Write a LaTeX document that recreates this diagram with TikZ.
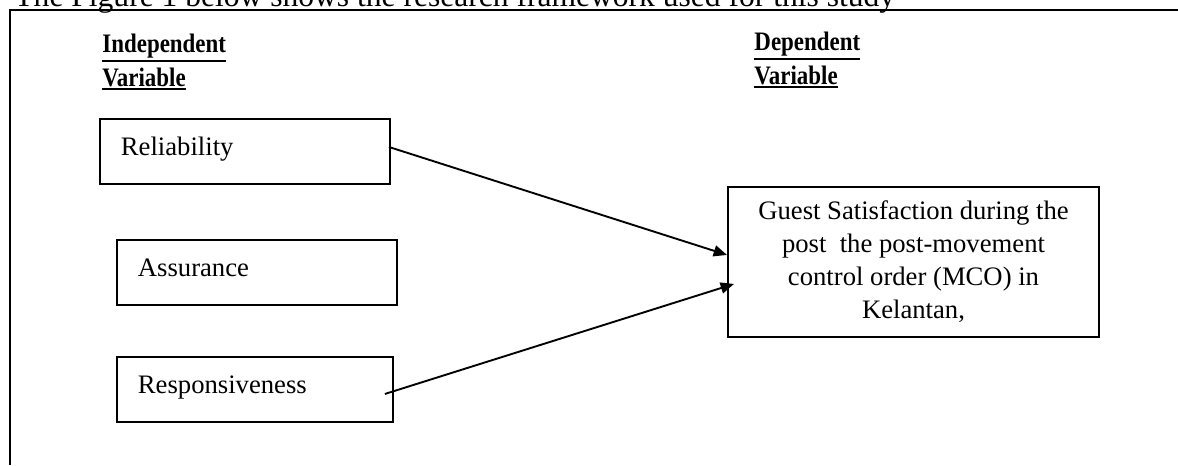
\documentclass[tikz,border=0pt]{standalone}
\usepackage{fontspec}
\setmainfont{Liberation Serif}
\newfontfamily\headfont[FakeStretch=0.86]{Liberation Serif}
\usepackage{xcolor}
\usetikzlibrary{calc,positioning,arrows.meta}
\definecolor{ink}{HTML}{000000}
\definecolor{paper}{HTML}{FFFFFF}

% underlined heading word, with a heavier rule than \underline
\newcommand\ulword[1]{\setbox0=\hbox{#1}\rlap{\rule[\dimexpr-\dp0-1.3pt\relax]{\wd0}{0.9pt}}\box0}

\tikzset{
  px/.style={x=0.45pt, y=-0.45pt},
  factor/.style={draw=ink, line width=0.85pt, anchor=north west, align=left,
    inner xsep=9.45pt, inner ysep=0pt, minimum height=29.25pt,
    text height=8pt, text depth=4.4pt, font=\fontsize{12}{14}\selectfont},
  heading/.style={anchor=north west, inner sep=0pt, align=left,
    font=\headfont\bfseries\fontsize{12}{15.3}\selectfont},
  link/.style={draw=ink, line width=0.85pt, -{Triangle[length=6pt,width=5pt]}},
}

\begin{document}
\begin{tikzpicture}[px]
  \useasboundingbox (0,0) rectangle (1178,465);
  \fill[paper] (0,0) rectangle (1178,465);
  \clip (0,0) rectangle (1178,465);

  % page frame and the cut-off sentence above it
  \draw[ink, line width=0.9pt] (10,465) |- (1178,10);
  \node[anchor=base west, inner sep=0pt, font=\fontsize{14.2}{16}\selectfont] (intro) at (14,6)
    {The Figure 1 below shows the research framework used for this study};

  % column headings
  \node[heading] (indep) at (102,34) {\ulword{Independent}\\\ulword{Variable}};
  \node[heading] (dep) at (754,32) {\ulword{Dependent}\\\ulword{Variable}};

  % independent variables
  \node[factor, text width=111.6pt] (rel) at (99,118) {Reliability};
  \node[factor, text width=107.1pt] (assur) at (116,239) {Assurance};
  \node[factor, text width=105.3pt] (resp) at (116,356) {Responsiveness};

  % dependent variable
  \node[draw=ink, line width=0.85pt, anchor=north west, minimum width=167pt, minimum height=67.5pt,
    align=center, font=\fontsize{12}{14.85}\selectfont] (guest) at (727,186)
    {Guest Satisfaction during the\\post\ \ the post-movement\\control order (MCO) in\\Kelantan,};

  \draw[link] ($(rel.east)+(-2,-4.5)$) -- ($(guest.west)+(0,-7)$);
  \draw[link] ($(resp.east)+(-9,4.5)$) -- ($(guest.west)+(7,22)$);
\end{tikzpicture}
\end{document}
